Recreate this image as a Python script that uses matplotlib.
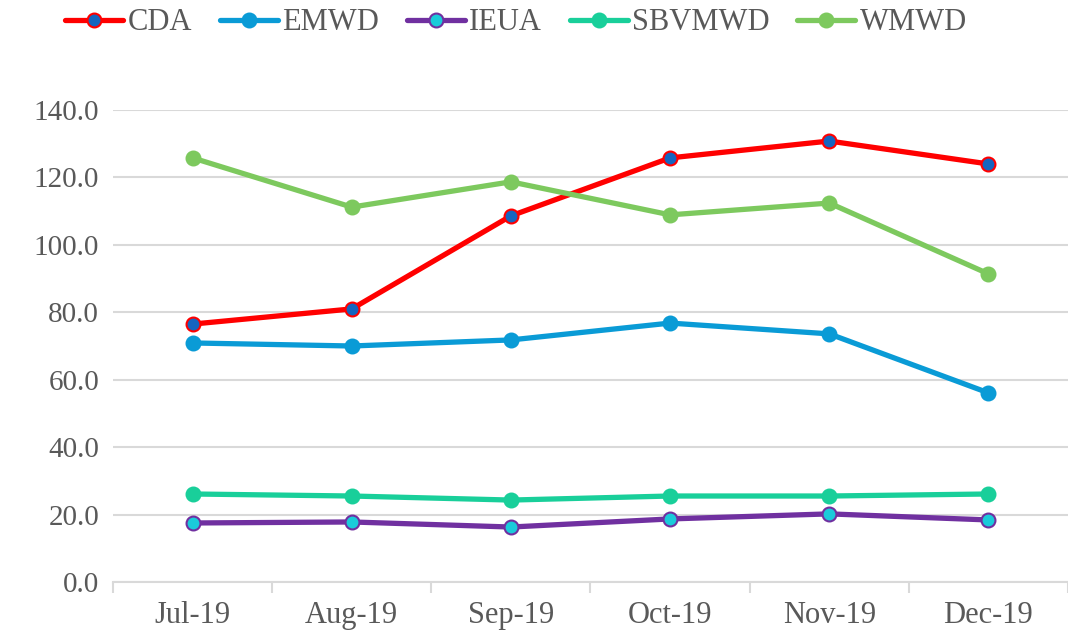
import matplotlib.pyplot as plt
import numpy as np
from matplotlib.ticker import FixedLocator

months = ["Jul-19", "Aug-19", "Sep-19", "Oct-19", "Nov-19", "Dec-19"]
cda = [76.5, 81.0, 108.6, 125.8, 130.8, 124.0]
emwd = [70.9, 70.0, 71.8, 76.8, 73.6, 56.1]
ieua = [17.5, 17.8, 16.3, 18.7, 20.2, 18.4]
sbvmwd = [26.1, 25.5, 24.3, 25.5, 25.5, 26.1]
wmwd = [125.8, 111.2, 118.7, 108.9, 112.4, 91.4]

# name, values, line colour, marker face, marker edge
series = [
    ("CDA", cda, "#FF0000", "#1565C0", "#FF0000"),
    ("EMWD", emwd, "#0A9BD6", "#0A9BD6", "#0A9BD6"),
    ("IEUA", ieua, "#7030A0", "#1ACBDA", "#7030A0"),
    ("SBVMWD", sbvmwd, "#19CF9A", "#19CF9A", "#19CF9A"),
    ("WMWD", wmwd, "#7DC95E", "#7DC95E", "#7DC95E"),
]

plt.rcParams["font.family"] = ["Liberation Serif", "DejaVu Serif"]
text_color = "#595959"

fig = plt.figure(figsize=(10.68, 6.43), dpi=100)
ax = fig.add_axes([0.1058, 0.0949, 0.8942, 0.7340])

x = np.arange(len(months))
for name, vals, lc, mfc, mec in series:
    ax.plot(x, vals, color=lc, linewidth=3.8, marker="o", markersize=10,
            markerfacecolor=mfc, markeredgecolor=mec, markeredgewidth=1.5,
            label=name, solid_capstyle="round")

ax.set_xlim(-0.5, len(months) - 0.5)
ax.set_ylim(0, 140)
ax.set_yticks(np.arange(0, 141, 20))
ax.set_yticklabels([f"{v:.1f}" for v in np.arange(0, 141, 20)])
ax.set_xticks(x)
ax.set_xticklabels(months)
ax.xaxis.set_minor_locator(FixedLocator(np.arange(-0.5, len(months), 1.0)))

ax.grid(axis="y", color="#D9D9D9", linewidth=1.5)
ax.set_axisbelow(True)
for s in ["top", "right", "left"]:
    ax.spines[s].set_visible(False)
ax.spines["bottom"].set_color("#D9D9D9")
ax.spines["bottom"].set_linewidth(1.5)

ax.tick_params(axis="y", length=0, pad=10, labelsize=21, labelcolor=text_color)
ax.tick_params(axis="x", which="major", length=0, pad=14, labelsize=22, labelcolor=text_color)
ax.tick_params(axis="x", which="minor", length=8, width=1.5, color="#D9D9D9")

fig.legend(loc="upper left", bbox_to_anchor=(0.035, 1.03), ncol=5, frameon=False,
           fontsize=22, labelcolor=text_color, handlelength=1.9, handletextpad=0.15,
           columnspacing=0.9)

fig.savefig("out.png", dpi=100)
